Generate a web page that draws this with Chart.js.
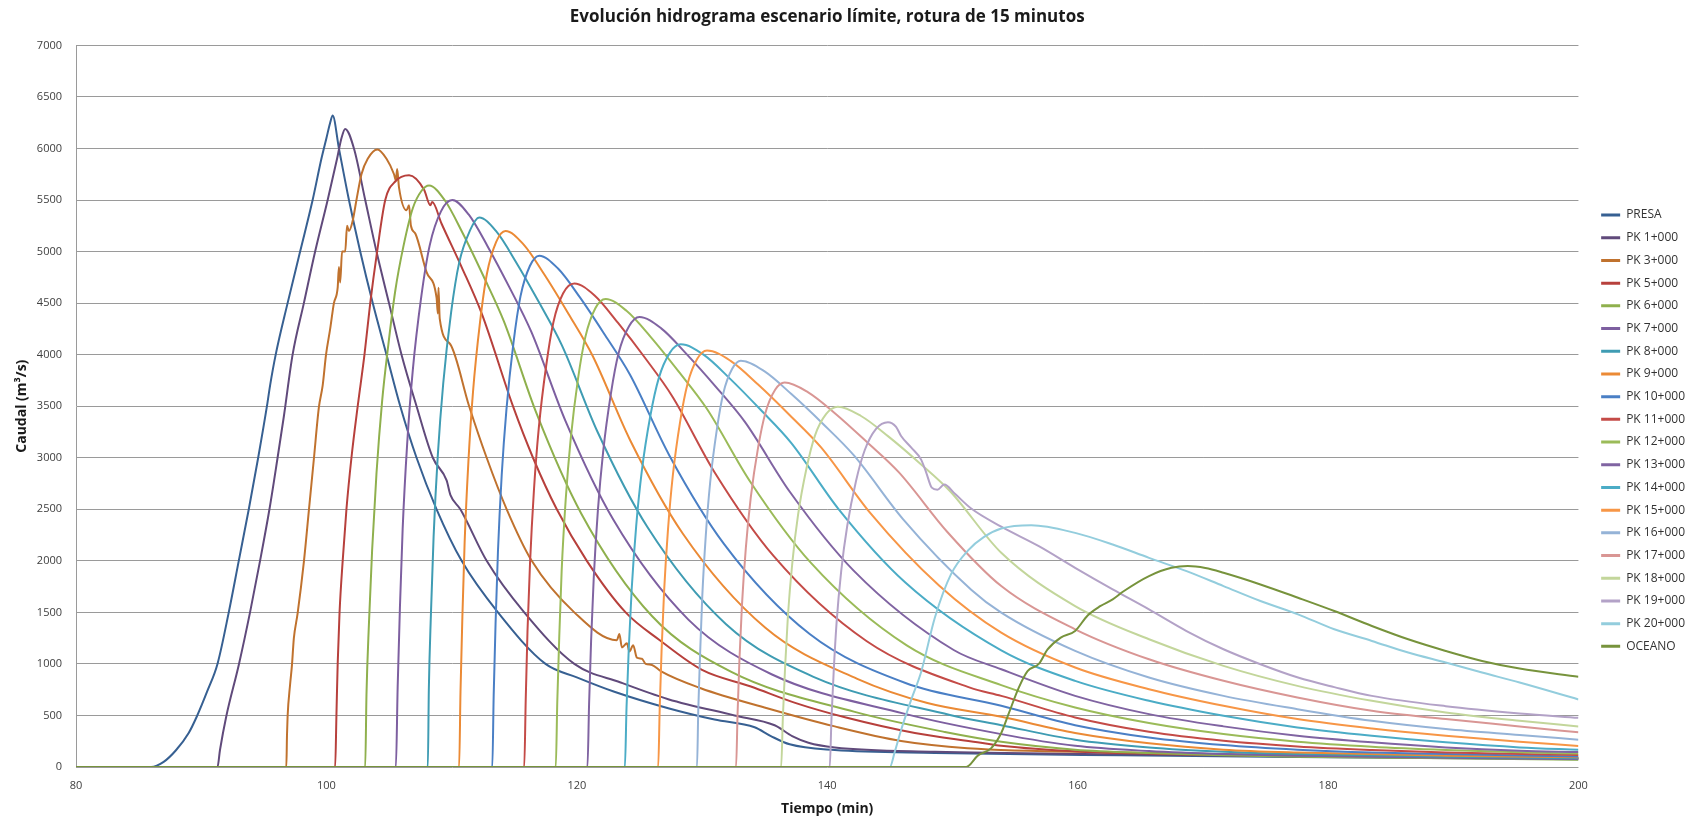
<!DOCTYPE html>
<html>
<head>
<meta charset="utf-8">
<script src="https://cdn.jsdelivr.net/npm/chart.js@4.4.1/dist/chart.umd.min.js"></script>
<style>
html, body { margin: 0; padding: 0; background: #fff; }
</style>
</head>
<body>
<canvas id="chart" width="1695" height="822"></canvas>
<script>
// hydrographs, [minute, m3/s]
var seriesNames = ['PRESA', 'PK 1+000', 'PK 3+000', 'PK 5+000', 'PK 6+000', 'PK 7+000', 'PK 8+000',
  'PK 9+000', 'PK 10+000', 'PK 11+000', 'PK 12+000', 'PK 13+000', 'PK 14+000', 'PK 15+000',
  'PK 16+000', 'PK 17+000', 'PK 18+000', 'PK 19+000', 'PK 20+000', 'OCEANO'];

var presa = [[80,0],[86,0],[87,50],[88,165],[89,330],[89.65,490],[90.5,740],[91.3,1000],[92.2,1500],[93,2000],[93.8,2500],[94.55,3000],[95.25,3500],[95.5,3700],[95.95,4000],[96.9,4500],[97.9,5000],[98.9,5500],[99.6,5900],[100,6100],[100.3,6250],[100.5,6320],[101,6000],[101.8,5500],[102.7,5000],[103.7,4500],[104.8,4000],[105.9,3500],[107.2,3000],[108.8,2500],[110.8,2000],[113.7,1500],[117.5,1000],[120,870],[123,730],[127.3,570],[131,460],[134.2,385],[135.5,300],[137,220],[140.6,165],[148.6,137],[163.5,113],[180,95],[200,75]];
var pk1 = [[80,0],[91.3,0],[91.5,165],[92,490],[93,990],[93.9,1500],[94.7,2000],[95.45,2500],[96.1,3000],[96.6,3400],[97.3,4000],[98.2,4500],[99.1,5000],[100.1,5500],[100.85,5900],[101.2,6100],[101.5,6190],[102.2,6000],[103.1,5500],[104,5000],[105,4500],[106,4000],[107.2,3500],[108.5,3000],[109.6,2780],[109.9,2640],[110.7,2500],[112.8,2000],[115.8,1500],[119.8,1000],[123.5,820],[127.3,658],[132.6,500],[135.8,405],[137.2,300],[138.5,236],[140.6,190],[148.6,148],[163.5,123],[180,100],[200,85]];
var pk3 = [[80,0],[96.8,0],[96.85,300],[96.9,490],[97.1,800],[97.25,990],[97.35,1170],[97.4,1250],[97.7,1490],[98.2,1990],[98.6,2490],[99,2990],[99.4,3490],[99.7,3700],[99.97,4000],[100.3,4250],[100.6,4500],[100.9,4650],[101,4850],[101.1,4700],[101.25,5000],[101.5,5000],[101.65,5250],[101.8,5200],[102.1,5300],[102.4,5500],[102.8,5750],[103.3,5900],[104.07,5990],[104.8,5900],[105.4,5750],[105.55,5690],[105.65,5800],[105.8,5620],[106.4,5400],[106.6,5450],[106.75,5250],[107.1,5175],[108,4800],[108.8,4550],[108.9,4400],[108.95,4650],[109.05,4350],[109.9,4100],[111.4,3500],[112.8,3000],[114.4,2500],[116.4,2000],[119.8,1500],[123.2,1230],[123.4,1290],[123.6,1160],[124,1200],[124.2,1120],[124.5,1180],[124.8,1060],[125.2,1050],[125.5,1000],[126,990],[126.7,930],[129.9,764],[135.2,570],[140.6,394],[145.9,253],[151.2,183],[163.5,141],[180,110],[200,90]];
var pk5 = [[80,0],[100.7,0],[100.8,500],[100.9,1000],[101.05,1500],[101.3,2000],[101.6,2500],[102,3000],[102.5,3500],[103.04,4000],[103.5,4500],[104.05,5000],[104.7,5500],[105.5,5680],[106.6,5740],[107.8,5600],[108.3,5450],[108.45,5480],[109.2,5270],[110.8,4850],[112.4,4400],[114.9,3500],[116.5,3000],[118.4,2500],[120.8,2000],[123.9,1500],[126.6,1232],[130,942],[133.9,781],[137.5,620],[141.5,480],[147,330],[152,240],[153.9,205],[160,150],[170,120],[185,100],[200,85]];
var pk6 = [[80,0],[103.1,0],[103.2,700],[103.4,1400],[103.65,2100],[104,2850],[104.45,3550],[104.95,4100],[105.5,4620],[106.15,5050],[106.9,5420],[107.6,5590],[108.2,5640],[109.44,5500],[110.88,5180],[112.53,4765],[114.17,4325],[116.75,3440],[120.35,2460],[126,1465],[132.3,925],[142.2,535],[149.4,340],[153.9,245],[159.8,168],[165.7,135],[171.65,115],[177.55,100],[189.4,85],[200,71]];
var pk7 = [[80,0],[105.55,0],[105.69,770],[105.87,1540],[106.09,2310],[106.45,3135],[106.9,3850],[107.58,4565],[108.25,5060],[109.15,5390],[110.05,5500],[111.36,5360],[112.88,5050],[114.63,4650],[116.37,4220],[119.1,3355],[122.91,2400],[128.91,1430],[135.55,900],[146.05,520],[153.9,319],[159.8,206],[165.7,155],[171.65,125],[177.55,108],[189.4,90],[200,77]];
var pk8 = [[80,0],[108.1,0],[108.18,745],[108.35,1490],[108.56,2230],[108.9,3030],[109.33,3720],[109.96,4410],[110.6,4890],[111.45,5200],[112.2,5330],[113.57,5195],[115.16,4895],[116.99,4505],[118.81,4090],[121.66,3250],[125.65,2325],[131.92,1385],[138.9,875],[149.8,505],[153.9,406],[159.8,265],[165.7,190],[171.65,148],[177.55,125],[189.4,100],[200,84]];
var pk9 = [[80,0],[110.6,0],[110.71,730],[110.86,1455],[111.04,2180],[111.34,2960],[111.71,3640],[112.27,4315],[112.82,4785],[113.56,5095],[114.3,5200],[115.74,5070],[117.42,4775],[119.34,4395],[121.26,3990],[124.26,3170],[128.46,2265],[135.06,1350],[142.4,855],[148,620],[153.9,487],[159.8,330],[165.7,230],[171.65,168],[177.55,140],[189.4,110],[200,94]];
var pk10 = [[80,0],[113.25,0],[113.36,695],[113.51,1390],[113.7,2085],[114,2830],[114.38,3470],[114.94,4115],[115.5,4565],[116.25,4860],[117,4960],[118.5,4835],[120.25,4555],[122.25,4190],[124.25,3805],[127.38,3025],[131.75,2165],[138.6,1290],[146.25,815],[153.9,594],[159.8,406],[165.7,287],[171.65,213],[177.55,168],[183.5,140],[189.4,125],[200,103]];
var pk11 = [[80,0],[115.8,0],[115.92,655],[116.06,1315],[116.26,1970],[116.57,2675],[116.96,3285],[117.55,3890],[118.13,4315],[118.91,4595],[119.8,4690],[121.42,4575],[123.31,4305],[125.47,3965],[127.63,3595],[131,2860],[135.73,2045],[143.16,1220],[151.4,770],[153.9,690],[159.8,481],[165.7,342],[171.65,255],[177.55,200],[183.5,165],[189.4,140],[200,116]];
var pk12 = [[80,0],[118.32,0],[118.44,635],[118.6,1270],[118.79,1905],[119.11,2590],[119.51,3180],[120.1,3770],[120.69,4175],[121.48,4450],[122.3,4540],[123.97,4425],[125.91,4170],[128.14,3835],[130.36,3480],[133.84,2770],[138.7,1980],[146.35,1180],[153.9,794],[159.8,577],[165.7,426],[171.65,319],[177.55,245],[183.5,197],[189.4,165],[195.3,142],[200,130]];
var pk13 = [[80,0],[120.85,0],[120.98,610],[121.14,1220],[121.35,1830],[121.68,2485],[122.1,3055],[122.72,3620],[123.34,4015],[124.17,4275],[125,4365],[126.74,4255],[128.77,4005],[131.09,3690],[133.41,3350],[137.04,2665],[142.11,1905],[150.1,1135],[153.9,948],[159.8,690],[165.7,513],[171.65,394],[177.55,303],[183.5,239],[189.4,190],[195.3,158],[200,145]];
var pk14 = [[80,0],[123.84,0],[123.97,575],[124.15,1150],[124.38,1720],[124.74,2335],[125.19,2870],[125.87,3405],[126.54,3770],[127.44,4020],[128.3,4100],[130.12,4000],[132.25,3765],[134.68,3465],[137.12,3145],[140.92,2500],[146.24,1790],[153.9,1132],[159.8,835],[165.7,642],[171.65,497],[177.55,384],[183.5,303],[189.4,239],[195.3,190],[200,168]];
var pk15 = [[80,0],[126.5,0],[126.62,565],[126.77,1130],[126.97,1700],[127.28,2300],[127.67,2830],[128.26,3355],[128.84,3715],[129.62,3960],[130.4,4040],[132.28,3940],[134.48,3710],[136.99,3415],[139.51,3100],[143.43,2465],[148.93,1760],[153.9,1303],[159.8,965],[165.7,755],[171.65,594],[177.55,465],[183.5,374],[189.4,303],[195.3,245],[200,204]];
var pk16 = [[80,0],[129.6,0],[129.7,550],[129.85,1105],[130.02,1655],[130.3,2245],[130.65,2760],[131.18,3270],[131.7,3625],[132.4,3860],[133.1,3940],[134.97,3840],[137.16,3615],[139.65,3330],[142.15,3020],[146.05,2405],[151.5,1720],[153.9,1497],[159.8,1126],[165.7,868],[171.65,690],[177.55,561],[183.5,448],[189.4,368],[195.3,310],[200,265]];
var pk17 = [[80,0],[132.72,0],[132.84,520],[132.99,1045],[133.19,1570],[133.5,2125],[133.89,2610],[134.48,3100],[135.06,3435],[135.84,3660],[136.6,3730],[138.48,3635],[140.68,3425],[143.19,3150],[145.71,2860],[149.63,2275],[153.9,1755],[159.8,1336],[165.7,1045],[171.65,836],[177.55,674],[183.5,545],[189.4,465],[195.3,394],[200,336]];
var pk18 = [[80,0],[136.32,0],[136.46,490],[136.64,980],[136.86,1465],[137.22,1990],[137.67,2445],[138.35,2900],[139.02,3215],[139.92,3425],[140.85,3495],[142.7,3405],[144.85,3210],[147.32,2955],[149.78,2680],[153.9,2078],[159.8,1561],[165.7,1239],[171.65,981],[177.55,787],[183.5,642],[189.4,529],[195.3,448],[200,394]];
var pk19 = [[80,0],[140.2,0],[140.34,470],[140.52,935],[140.75,1405],[141.12,1905],[141.6,2340],[142.3,2775],[143,3075],[143.9,3280],[144.85,3345],[145.5,3300],[145.9,3211],[146.7,3100],[147.5,2982],[147.9,2859],[148.35,2710],[148.8,2690],[149.35,2740],[150.2,2650],[151.5,2507],[153.9,2331],[156.9,2142],[159.8,1932],[162.8,1723],[165.7,1529],[168.7,1319],[171.65,1142],[174.6,997],[177.6,868],[180.5,775],[183.5,690],[189.4,590],[195.3,520],[200,477]];
var pk20 = [[80,0],[145,0],[145.4,150],[145.9,359],[146.7,650],[147.5,922],[148.6,1450],[149.9,1873],[151.25,2102],[152.5,2230],[153.9,2313],[156.3,2345],[159.8,2271],[162.8,2158],[165.7,2029],[168.7,1900],[171.65,1755],[174.6,1610],[177.6,1481],[180.5,1336],[183.5,1223],[186.4,1110],[189.4,1013],[192.3,916],[195.3,819],[200,655]];
var oceano = [[80,0],[151.1,0],[152.05,113],[153.1,183],[153.9,330],[154.5,520],[155.3,770],[156,930],[156.9,1000],[157.6,1140],[158.65,1255],[159.8,1320],[160.8,1470],[161.8,1560],[162.8,1626],[163.7,1707],[165.7,1852],[167.5,1932],[168.8,1949],[170.2,1930],[171.65,1884],[174.6,1771],[177.6,1642],[180.5,1513],[183.5,1368],[186.4,1239],[189.4,1126],[192.3,1029],[195.3,955],[200,875]];

var seriesData = [presa, pk1, pk3, pk5, pk6, pk7, pk8, pk9, pk10, pk11, pk12, pk13, pk14, pk15,
  pk16, pk17, pk18, pk19, pk20, oceano];

var seriesColors = ['#376092', '#604A7B', '#C0722E', '#B7403C', '#8FB04D', '#7D5FA0', '#3F9CB3',
  '#EB8A35', '#4A7FC5', '#C44B47', '#9BBB59', '#8064A2', '#4BACC6', '#F79646',
  '#95B3D7', '#D99694', '#C3D69B', '#B3A2C7', '#93CDDD', '#77933C'];

var datasets = seriesData.map(function (s, i) {
  return {
    label: seriesNames[i],
    data: s.map(function (p) { return {x: p[0], y: p[1]}; }),
    borderColor: seriesColors[i],
    backgroundColor: seriesColors[i],
    borderWidth: 2,
    pointRadius: 0,
    pointHoverRadius: 0,
    fill: false,
    cubicInterpolationMode: 'monotone',
    order: seriesData.length - i   // later series on top, like Excel
  };
});

var gridColor = '#9a9a9a';

new Chart(document.getElementById('chart').getContext('2d'), {
  type: 'line',
  data: { datasets: datasets },
  options: {
    responsive: false,
    animation: false,
    devicePixelRatio: 1,
    layout: { padding: { left: 0, right: 0, top: 0, bottom: 0 } },
    scales: {
      x: {
        type: 'linear',
        min: 80, max: 200,
        ticks: { stepSize: 20, padding: 12, color: '#404040', font: { family: 'Open Sans', size: 11 } },
        grid: { display: false, drawTicks: false },
        border: { display: false },
        title: { display: true, text: 'Tiempo (min)', color: '#1a1a1a',
          font: { family: 'Open Sans', size: 14, weight: 'bold' }, padding: { top: 0, bottom: 5 } },
        afterFit: function (s) { s.height = 55; }
      },
      y: {
        position: 'left',
        min: 0, max: 7000,
        ticks: { stepSize: 500, padding: 14, color: '#404040', font: { family: 'Open Sans', size: 11 },
          callback: function (v) { return String(v); } },
        grid: { color: gridColor, drawTicks: false },
        border: { display: true, color: gridColor },
        title: { display: true, text: 'Caudal (m³/s)', color: '#1a1a1a',
          font: { family: 'Open Sans', size: 14, weight: 'bold' }, padding: { top: 14, bottom: 0 } },
        afterFit: function (s) { s.width = 76; }
      },
      spacer: {
        type: 'linear',
        position: 'right',
        display: true,
        grid: { display: false, drawTicks: false },
        border: { display: false },
        ticks: { display: false },
        afterFit: function (s) { s.width = 12; }
      }
    },
    plugins: {
      title: {
        display: true,
        fullSize: false,
        text: 'Evolución hidrograma escenario límite, rotura de 15 minutos',
        color: '#1a1a1a',
        font: { family: 'Open Sans', size: 17, weight: 'bold' },
        padding: { top: 7, bottom: 18 }
      },
      legend: {
        position: 'right',
        title: { display: true, text: '', font: { size: 12 }, padding: { top: 0, bottom: 25 } },
        labels: {
          usePointStyle: true,
          pointStyle: 'line',
          pointStyleWidth: 19,
          padding: 10.7,
          color: '#333333',
          font: { family: 'Open Sans', size: 12 },
          sort: function (a, b) { return a.datasetIndex - b.datasetIndex; },
          generateLabels: function (chart) {
            var items = Chart.defaults.plugins.legend.labels.generateLabels(chart);
            items.forEach(function (it) { it.lineWidth = 3; });
            return items;
          }
        }
      },
      tooltip: { enabled: false }
    }
  }
});
</script>
</body>
</html>
